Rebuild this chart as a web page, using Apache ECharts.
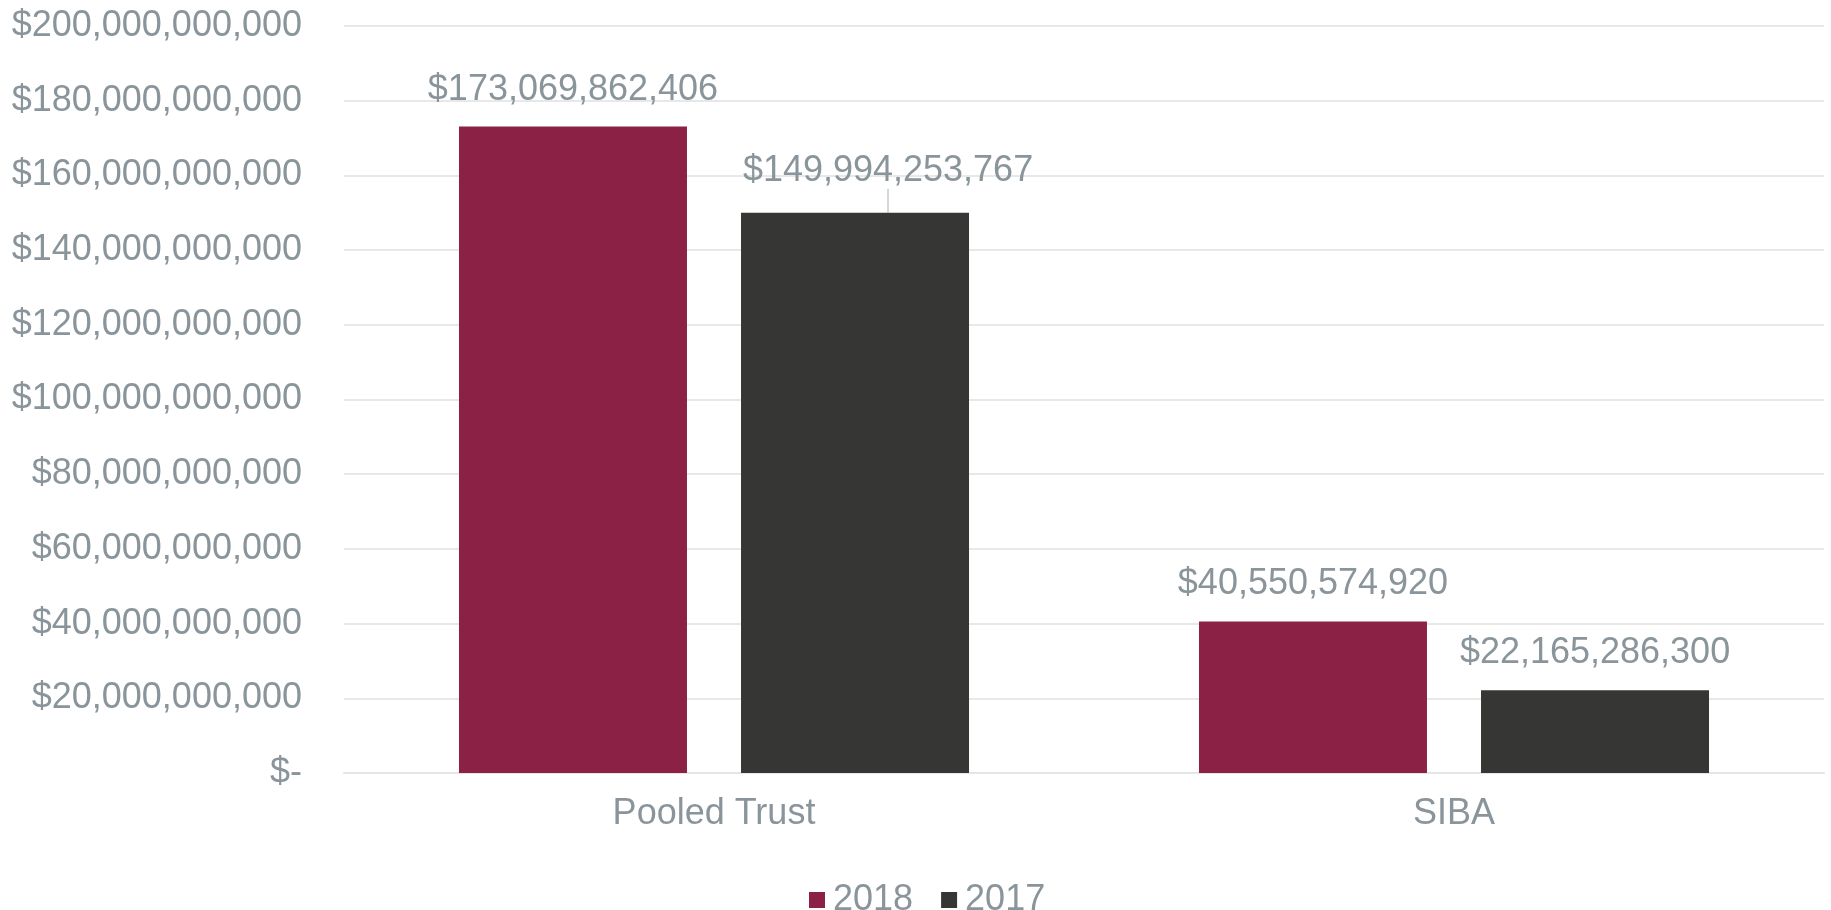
<!DOCTYPE html>
<html>
<head>
<meta charset="utf-8">
<script src="https://cdn.jsdelivr.net/npm/echarts@6/dist/echarts.min.js"></script>
<style>
html,body{margin:0;padding:0;background:#fff;}
#chart{width:1831px;height:910px;}
</style>
</head>
<body>
<div id="chart"></div>
<script>
const categories = ['Pooled Trust', 'SIBA'];
const values2018 = [173069862406, 40550574920];
const values2017 = [149994253767, 22165286300];
const seriesNames = ['2018', '2017'];
const yTicks = { min: 0, max: 200000000000, interval: 20000000000 };

const FONT = '"Liberation Sans", Arial, sans-serif';
const TEXT = '#8a959b';

function money(v) {
  if (v === 0) return '$-';
  return '$' + Math.round(v).toLocaleString('en-US');
}

const data2017 = values2017.map((v, i) => i === 0
  ? { value: v, labelLine: { show: true, lineStyle: { color: '#c8ccce', width: 1.5 } } }
  : { value: v, labelLine: { show: false } });

const chart = echarts.init(document.getElementById('chart'));
chart.setOption({
  animation: false,
  textStyle: { fontFamily: FONT },
  grid: { left: 344, right: 7, top: 26, bottom: 137, containLabel: false },
  legend: {
    data: seriesNames,
    left: 804, top: 877,
    itemWidth: 16, itemHeight: 16, itemGap: 28,
    icon: 'rect',
    textStyle: { fontSize: 36, color: TEXT, fontFamily: FONT, padding: [0, 0, 0, 3] }
  },
  xAxis: {
    type: 'category',
    data: categories,
    axisLine: { show: true, lineStyle: { color: '#e6e6e6', width: 2 } },
    axisTick: { show: false },
    axisLabel: { fontSize: 36, color: TEXT, fontFamily: FONT, margin: 23 }
  },
  yAxis: {
    type: 'value',
    min: yTicks.min, max: yTicks.max, interval: yTicks.interval,
    axisLine: { show: false },
    axisTick: { show: false },
    splitLine: { lineStyle: { color: '#e8e8e8', width: 2 } },
    axisLabel: { fontSize: 36, color: TEXT, fontFamily: FONT, margin: 42, formatter: money }
  },
  series: [
    {
      name: seriesNames[0], type: 'bar', data: values2018,
      barWidth: 228, barGap: '23.7%',
      itemStyle: { color: '#8b2245' },
      label: { show: true, position: 'top', distance: 19, fontSize: 36, color: TEXT, fontFamily: FONT, formatter: p => money(p.value) }
    },
    {
      name: seriesNames[1], type: 'bar', data: data2017,
      barWidth: 228, barGap: '23.7%',
      itemStyle: { color: '#363734' },
      label: { show: true, position: 'top', distance: 19, fontSize: 36, color: TEXT, fontFamily: FONT, formatter: p => money(p.value) },
      labelLayout: function (params) {
        if (params.dataIndex === 0) return { dx: 33, dy: -5 };
        return {};
      }
    }
  ]
});
</script>
</body>
</html>
